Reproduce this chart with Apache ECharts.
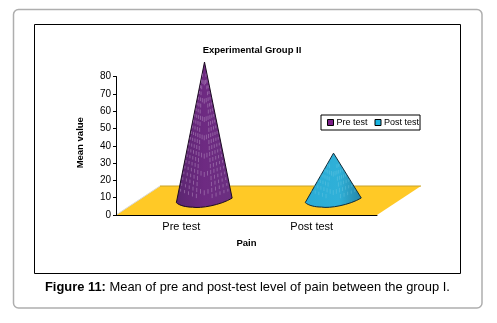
<!DOCTYPE html>
<html>
<head>
<meta charset="utf-8">
<style>html,body{margin:0;padding:0;background:#fff}#c{width:497px;height:323px}</style>
<script src="https://cdn.jsdelivr.net/npm/echarts@6/dist/echarts.min.js"></script>
</head>
<body>
<div id="c"></div>
<script>
var categories = ['Pre test', 'Post test'];
var seriesNames = ['Pre test', 'Post test'];
var preTest = [[0, 80]];
var postTest = [[1, 27.4]];
var yTicks = { min: 0, max: 80, interval: 10 };
var titleText = 'Experimental Group II';
var captionBold = 'Figure 11:';
var captionText = ' Mean of pre and post-test level of pain between the group I.';

var FONT = '"Liberation Sans", Arial, sans-serif';
var DEPTH_X = 44, DEPTH_Y = 29;
var chart = echarts.init(document.getElementById('c'), null, { renderer: 'canvas' });

function floorItem(params, api) {
  var r = params.coordSys;
  var b = r.y + r.height;
  return {
    type: 'group',
    children: [
      { type: 'polygon', shape: { points: [[r.x, b], [r.x + r.width, b], [r.x + r.width + DEPTH_X, b - DEPTH_Y], [r.x + DEPTH_X, b - DEPTH_Y]] },
        style: { fill: '#FFC926' } },
      { type: 'polyline', shape: { points: [[r.x + DEPTH_X, b - DEPTH_Y], [r.x + r.width + DEPTH_X, b - DEPTH_Y]] },
        style: { stroke: '#C9A227', lineWidth: 1, fill: 'none' } },
      { type: 'polyline', shape: { points: [[r.x, b], [r.x + DEPTH_X, b - DEPTH_Y]] },
        style: { stroke: '#D8D8D8', lineWidth: 1, fill: 'none' } }
    ]
  };
}

function coneItem(stops, dash, edge, dashOpacity, nudge) {
  return function (params, api) {
    var p = api.coord([api.value(0), api.value(1)]);
    var o = api.coord([api.value(0), 0]);
    var cx = o[0] + DEPTH_X / 2 + 1 + nudge;
    var base = o[1] - DEPTH_Y / 2;
    var top = p[1] - DEPTH_Y / 2;
    var hw = 28;
    var L = [cx - hw, base + 1.5], R = [cx + hw - 0.5, base - 3];
    var path = 'M' + cx + ' ' + top + 'L' + R[0] + ' ' + R[1] +
      'C' + (cx + 16) + ' ' + (base + 4) + ' ' + (cx - 4) + ' ' + (base + 7.5) + ' ' + (cx - 12) + ' ' + (base + 6) +
      'C' + (cx - 18) + ' ' + (base + 6) + ' ' + (cx - 25) + ' ' + (base + 4.5) + ' ' + L[0] + ' ' + L[1] + 'Z';
    var children = [{
      type: 'path',
      shape: { pathData: path, layout: 'center', x: cx - hw, y: top, width: 2 * hw, height: base + 7 - top },
      style: {
        fill: { type: 'linear', x: 0, y: 0, x2: 1, y2: 0, colorStops: stops },
        stroke: edge, lineWidth: 1
      }
    }];
    var h = base - top;
    var rows = Math.round(h / 6);
    for (var i = 2; i < rows; i++) {
      var t = i / rows;
      var w = hw * t;
      var cols = Math.min(6, 1 + Math.round(w / 3));
      for (var k = -cols; k <= cols; k++) {
        if (Math.abs(k) <= 1 && i % 3) continue;
        var f = k / (cols + 0.8);
        var dx = f * w;
        var dy = top + t * h - Math.abs(f) * 9 * t + 2 * t;
        children.push({
          type: 'line',
          shape: { x1: cx + dx, y1: dy, x2: cx + dx, y2: dy + 2.5 + 2.5 * (1 - Math.abs(f)) },
          style: { stroke: dash, lineWidth: 1, opacity: dashOpacity }
        });
      }
    }
    return { type: 'group', children: children };
  };
}

chart.setOption({
  animation: false,
  backgroundColor: '#fff',
  title: {
    text: titleText, left: 247, top: 40, textAlign: 'center',
    textStyle: { fontFamily: FONT, fontSize: 9.5, fontWeight: 'bold', color: '#000' }
  },
  legend: {
    data: seriesNames, left: 321, top: 115, orient: 'horizontal',
    width: 100, height: 16, padding: [3, 1, 3, 6], itemGap: 7, itemWidth: 6, itemHeight: 6,
    icon: 'rect', borderColor: '#000', borderWidth: 1, backgroundColor: '#fff',
    itemStyle: { borderColor: '#000', borderWidth: 1 },
    textStyle: { fontFamily: FONT, fontSize: 9, color: '#000', padding: [0, 0, 0, -2] }
  },
  grid: { left: 116, top: 76.5, width: 261, height: 138.5, containLabel: false },
  xAxis: {
    type: 'category', data: categories, z: 2,
    name: 'Pain', nameLocation: 'middle', nameGap: 23,
    nameTextStyle: { fontFamily: FONT, fontSize: 9.5, fontWeight: 'bold', color: '#000' },
    axisLine: { lineStyle: { color: '#000', width: 1 } },
    axisTick: { length: 3, lineStyle: { color: '#000' } },
    axisLabel: { fontFamily: FONT, fontSize: 11, color: '#000', margin: 6 },
    splitLine: { show: false }
  },
  yAxis: {
    type: 'value', min: yTicks.min, max: yTicks.max, interval: yTicks.interval, z: 2,
    name: 'Mean value', nameLocation: 'middle', nameGap: 23, nameRotate: 90,
    nameTextStyle: { fontFamily: FONT, fontSize: 9.5, fontWeight: 'bold', color: '#000', padding: [0, 0, 8, 6] },
    axisLine: { show: true, lineStyle: { color: '#000', width: 1 } },
    axisTick: { show: true, length: 3, lineStyle: { color: '#000' } },
    axisLabel: { fontFamily: FONT, fontSize: 10, color: '#000', margin: 5 },
    splitLine: { show: false }
  },
  series: [
    { type: 'custom', name: 'floor', z: 1, silent: true, data: [[0, 0]], renderItem: floorItem },
    {
      type: 'custom', name: seriesNames[0], z: 3, data: preTest,
      encode: { x: 0, y: 1 },
      itemStyle: { color: '#7B1E87' },
      renderItem: coneItem([
        { offset: 0, color: '#5A2670' }, { offset: 0.5, color: '#6E2A82' }, { offset: 1, color: '#6A3080' }
      ], '#B893C4', '#1A0A20', 0.5, 0)
    },
    {
      type: 'custom', name: seriesNames[1], z: 3, data: postTest,
      encode: { x: 0, y: 1 },
      itemStyle: { color: '#1AB4E0' },
      renderItem: coneItem([
        { offset: 0, color: '#2AACD6' }, { offset: 0.6, color: '#2FB0D8' }, { offset: 1, color: '#2585A6' }
      ], '#7CCDE6', '#0E2A38', 0.35, -1.5)
    }
  ],
  graphic: [
    { type: 'rect', z: -10, silent: true, shape: { x: 13.5, y: 9.5, width: 468.5, height: 298.5, r: 5 },
      style: { fill: '#fff', stroke: '#AEAEAE', lineWidth: 1.5 } },
    { type: 'rect', z: -9, silent: true, shape: { x: 34.5, y: 24.5, width: 426, height: 249 },
      style: { fill: '#fff', stroke: '#000', lineWidth: 1 } },
    { type: 'text', z: 5, silent: true, x: 45, y: 281,
      style: {
        text: '{b|' + captionBold + '}{n|' + captionText + '}',
        rich: {
          b: { fontFamily: FONT, fontSize: 12.9, fontWeight: 'bold', fill: '#000', color: '#000' },
          n: { fontFamily: FONT, fontSize: 12.9, fill: '#000', color: '#000' }
        }
      } }
  ]
});
</script>
</body>
</html>
